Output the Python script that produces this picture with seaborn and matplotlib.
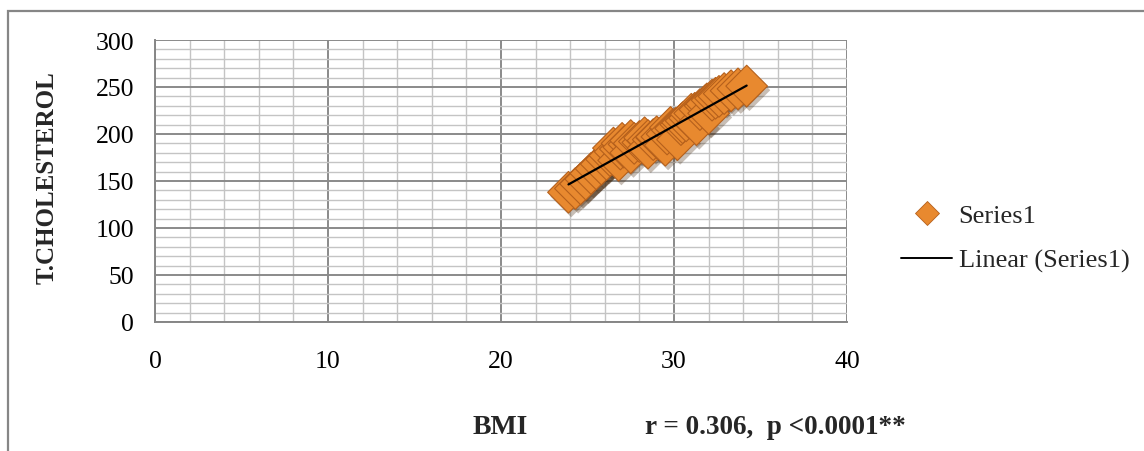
import numpy as np
import pandas as pd
import matplotlib
matplotlib.use("Agg")
import matplotlib.pyplot as plt
import matplotlib.patheffects as pe
from matplotlib.lines import Line2D
from matplotlib.patches import Rectangle
import seaborn as sns

# values
bmi = [23.9, 24.3, 24.6, 24.9, 25.2, 25.5, 25.8, 26.1, 26.3, 26.5, 26.6, 26.8,
       26.9, 27.0, 27.1, 27.4, 27.5, 27.5, 27.7, 28.0, 28.2, 28.3, 28.5, 28.5,
       28.8, 29.0, 29.0, 29.3, 29.5, 29.6, 29.8, 29.9, 30.1, 30.2, 30.4, 30.5,
       30.7, 30.9, 31.0, 31.2, 31.3, 31.5, 31.8, 31.9, 32.0, 32.2, 32.4, 32.6,
       32.9, 33.3, 33.7, 34.2]
chol = [138, 142, 147, 152, 158, 163, 168, 173, 177, 185, 181, 172,
        184, 190, 186, 189, 193, 180, 190, 192, 191, 196, 193, 185,
        194, 196, 197, 197, 188, 200, 207, 204, 206, 194, 210, 212,
        214, 217, 221, 222, 210, 226, 230, 232, 222, 236, 238, 240,
        243, 246, 248, 251]

x_ticks = [0, 10, 20, 30, 40]
y_ticks = [0, 50, 100, 150, 200, 250, 300]

df = pd.DataFrame({"BMI": bmi, "CHOL": chol})

sns.set_style("white")
plt.rcParams["font.family"] = ["Liberation Serif", "DejaVu Serif"]

fig = plt.figure(figsize=(11.44, 4.52), dpi=100)
ax = fig.add_axes([155 / 1144, 1 - 323 / 452, 692 / 1144, 282 / 452])

orange = "#E8892F"
sns.scatterplot(data=df, x="BMI", y="CHOL", ax=ax, marker="D", s=450,
                color=orange, edgecolor="#B5601C", linewidth=0.8, zorder=3,
                legend=False)
ax.collections[0].set_path_effects([pe.SimplePatchShadow(offset=(2, -3), alpha=0.3),
                                    pe.Normal()])
sns.regplot(data=df, x="BMI", y="CHOL", ax=ax, scatter=False, ci=None,
            truncate=True, color="black", line_kws={"lw": 1.6, "zorder": 4})

ax.set_xlim(0, 40)
ax.set_ylim(0, 300)
ax.set_xticks(x_ticks)
ax.set_yticks(y_ticks)
ax.set_xticks(np.arange(0, 41, 2), minor=True)
ax.set_yticks(np.arange(0, 301, 10), minor=True)
ax.grid(which="major", color="#8A8A8A", lw=1.4, zorder=0)
ax.grid(which="minor", color="#C4C4C4", lw=1.0, zorder=0)
ax.set_axisbelow(True)

for s in ["top", "right"]:
    ax.spines[s].set_visible(False)
for s in ["left", "bottom"]:
    ax.spines[s].set_color("#868686")
    ax.spines[s].set_linewidth(1.4)

ax.tick_params(which="major", direction="out", length=6, width=1.3,
               color="#868686", labelsize=18.5, labelcolor="black")
ax.tick_params(axis="y", which="major", pad=9)
ax.tick_params(axis="x", which="major", pad=14)
ax.tick_params(which="minor", length=0)
ax.set_xlabel("")
ax.set_ylabel("")

fig.text(47 / 1144, 1 - 178 / 452, "T.CHOLESTEROL", rotation=90, ha="center",
         va="center", fontsize=18, fontweight="bold")
fig.text(500 / 1144, 1 - 428 / 452, "BMI", ha="center", va="center",
         fontsize=20, fontweight="bold")
fig.text(645 / 1144, 1 - 428 / 452, "r = 0.306,  p <0.0001**", ha="left",
         va="center", fontsize=19.5, fontweight="bold")

handles = [
    Line2D([], [], marker="D", ls="none", markersize=12, color=orange,
           markeredgecolor="#B5601C", markeredgewidth=0.6),
    Line2D([], [], color="black", lw=1.4),
]
fig.legend(handles, ["Series1", "Linear (Series1)"], loc="center left",
           bbox_to_anchor=(901 / 1144, 1 - 239 / 452), frameon=False,
           borderpad=0, borderaxespad=0, fontsize=19, handlelength=1.95,
           handletextpad=0.23, labelspacing=0.8)

fig.patches.append(Rectangle((8 / 1144, -0.2), 1.2, 1.2 - 12 / 452,
                             transform=fig.transFigure, fill=False,
                             edgecolor="#868686", lw=1.6))

fig.savefig("out.png", dpi=100)
